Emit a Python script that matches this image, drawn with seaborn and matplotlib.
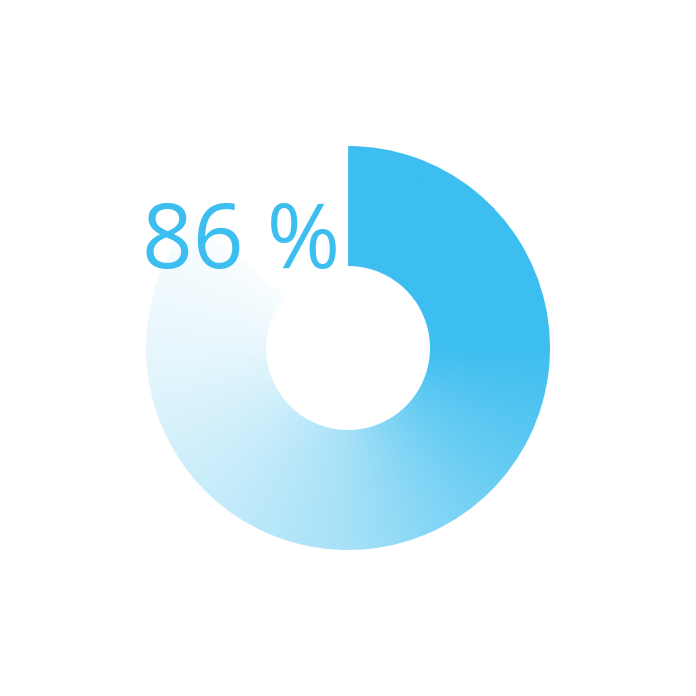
import numpy as np
import matplotlib
matplotlib.use("Agg")
import matplotlib.pyplot as plt
import seaborn as sns
from matplotlib.colors import to_rgb

# data
values = [86, 14]
label = "86 %"
base_color = "#3dbef0"

sns.set_theme(style="white")
plt.rcParams['font.family'] = ['Open Sans', 'DejaVu Sans']

fig = plt.figure(figsize=(6.96, 6.96), dpi=100)
ax = fig.add_axes([0, 0, 1, 1])

outer_r = 202
ring_w = 120
wedges, _ = ax.pie(values, startangle=90, counterclock=False, radius=outer_r,
                   wedgeprops=dict(width=ring_w, linewidth=0, edgecolor='none'))
wedges[0].set_facecolor('none')
wedges[1].set_visible(False)

# conic gradient: solid from top to 3 o'clock, then fading towards white
n = 800
xs = np.linspace(-outer_r, outer_r, n)
X, Y = np.meshgrid(xs, xs[::-1])
ang = np.degrees(np.arctan2(X, Y)) % 360  # clockwise from top
stops_ang = [0, 90, 135, 180, 225, 270, 300, 312]
stops_alpha = [1, 1, 0.75, 0.46, 0.28, 0.12, 0.05, 0.02]
alpha = np.interp(ang, stops_ang, stops_alpha)
rgb = np.array(to_rgb(base_color))
img = np.ones((n, n, 3)) * (1 - alpha[..., None]) + rgb * alpha[..., None]
im = ax.imshow(img, extent=[-outer_r, outer_r, -outer_r, outer_r],
               interpolation='bilinear', zorder=1)
im.set_clip_path(wedges[0])

ax.text(-107, 80, label, color=base_color, fontsize=64, ha='center',
        va='baseline', zorder=3)

ax.set_xlim(-348, 348)
ax.set_ylim(-348, 348)
ax.set_aspect('equal')
ax.axis('off')

fig.savefig("out.png", dpi=100, facecolor='white')
